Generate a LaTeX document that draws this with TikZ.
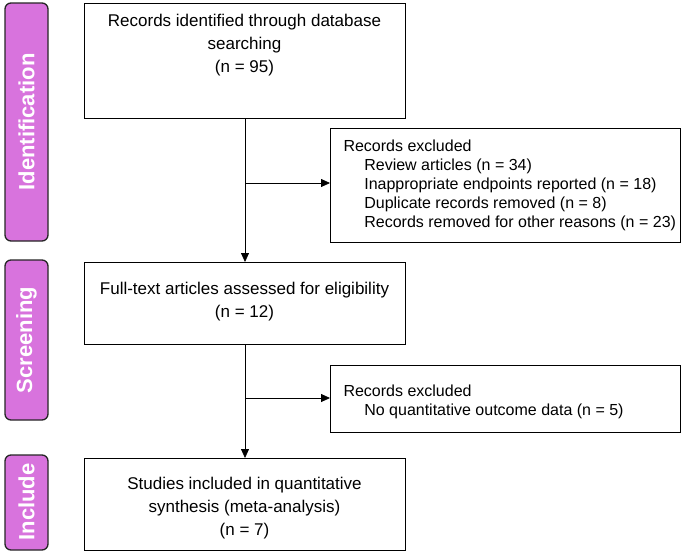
\documentclass[tikz,border=0pt]{standalone}
\usepackage{fontspec}
\setmainfont{Liberation Sans}
\usetikzlibrary{arrows.meta}
\definecolor{bar}{HTML}{D873DD}
\begin{document}
\begin{tikzpicture}[x=1pt,y=-1pt,
  box/.style={draw,thick,inner sep=0pt},
  sidebar/.style={draw=black!85,line width=1.3pt,fill=bar,rounded corners=6pt},
  lbl/.style={font=\fontsize{22}{26}\selectfont\bfseries,text=white,rotate=90},
  txt/.style={font=\fontsize{17}{23}\selectfont,align=center},
  etxt/.style={font=\fontsize{16}{19}\selectfont,align=left,anchor=north west},
  arr/.style={thick,-{Triangle[length=9pt,width=8pt]}}]
\useasboundingbox (0,0) rectangle (685,554);
\fill[white] (0,0) rectangle (685,554);
% side bars
\draw[sidebar] (5,3) rectangle (48,241);
\node[lbl] (lid) at (26.5,122) {Identification};
\draw[sidebar] (5,260) rectangle (48,420);
\node[lbl] (lsc) at (26.5,340) {Screening};
\draw[sidebar] (5,455) rectangle (48,550);
\node[lbl] (lin) at (26.5,502) {Include};
% boxes
\draw[box] (84,3) rectangle (405,118);
\node[txt] (b1) at (244.5,45) {Records identified through database\\searching\\(n = 95)};
\coordinate (b1s) at (245,118);
\draw[box] (330,128) rectangle (680,242);
\node[etxt] (e1) at (340,136) {Records excluded\\
\hspace*{1.3em}Review articles (n = 34)\\
\hspace*{1.3em}Inappropriate endpoints reported (n = 18)\\
\hspace*{1.3em}Duplicate records removed (n = 8)\\
\hspace*{1.3em}Records removed for other reasons (n = 23)};
\coordinate (e1w) at (330,183);
\draw[box] (84,262) rectangle (405,344);
\node[txt] (b2) at (244.5,302) {Full-text articles assessed for eligibility\\(n = 12)};
\coordinate (b2n) at (245,262);
\coordinate (b2s) at (245,344);
\draw[box] (330,365) rectangle (680,432);
\node[etxt] (e2) at (340,381) {Records excluded\\
\hspace*{1.3em}No quantitative outcome data (n = 5)};
\coordinate (e2w) at (330,398);
\draw[box] (84,458) rectangle (405,550);
\node[txt] (b3) at (244.5,508) {Studies included in quantitative\\synthesis (meta-analysis)\\(n = 7)};
\coordinate (b3n) at (245,458);
% connectors
\coordinate (j1) at (245,183);
\coordinate (j2) at (245,398);
\draw[arr] (b1s) -- (b2n);
\draw[arr] (j1) -- (e1w);
\draw[arr] (b2s) -- (b3n);
\draw[arr] (j2) -- (e2w);
\end{tikzpicture}
\end{document}
